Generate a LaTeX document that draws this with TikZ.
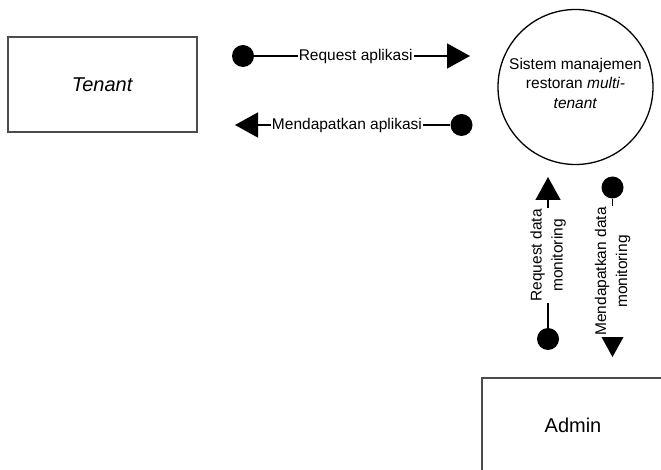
\documentclass[tikz,border=0pt]{standalone}
\usepackage{fontspec}
\setmainfont{Liberation Sans}
\usetikzlibrary{arrows.meta}
\begin{document}
\begin{tikzpicture}[x=1pt,y=-1pt,
  entity/.style={draw=black!70, line width=1.8pt, rectangle, inner sep=0pt,
    font=\fontsize{20}{24}\selectfont},
  process/.style={draw=black, line width=1.3pt, circle, minimum size=155pt, inner sep=0pt},
  processtext/.style={align=center, inner sep=0pt, font=\fontsize{15.5}{19.5}\selectfont},
  dot/.style={circle, fill=black, minimum size=22pt, inner sep=0pt},
  flow/.style={line width=1.5pt, -{Triangle[length=23pt,width=25pt]}},
  flowlabel/.style={fill=white, inner sep=1.2pt, align=center,
    font=\fontsize{15.5}{21}\selectfont}]
\useasboundingbox (0,0) rectangle (661,470);
\clip (0,0) rectangle (661,470);

% external entities and process
\node[entity, minimum width=189pt, minimum height=95pt] (tenant) at (102.5,84.5) {\textit{Tenant}};
\node[entity, minimum width=182pt, minimum height=94pt] (admin) at (573,425) {Admin};
\node[process] (sys) at (575.5,87) {};
\node[processtext] (sysText) at ([yshift=4pt]sys.center) {Sistem manajemen\\restoran \textit{multi-}\\\textit{tenant}};

% data flows between Tenant and the system
\node[dot] (reqSrc) at (243,56) {};
\coordinate (reqTip) at (470,56);
\draw[flow] (reqSrc) -- (reqTip) node[flowlabel, pos=0.47] (reqLbl) {Request aplikasi};

\node[dot] (getSrc) at (461.5,125) {};
\coordinate (getTip) at (235,125);
\draw[flow] (getSrc) -- (getTip) node[flowlabel, pos=0.48] (getLbl) {Mendapatkan aplikasi};

% data flows between Admin and the system
\node[dot] (monSrc) at (548,339) {};
\coordinate (monTip) at (548,177);
\draw[flow] (monSrc) -- (monTip) node[flowlabel, rotate=90, pos=0.48] (monLbl) {Request data\\monitoring};

\node[dot] (resSrc) at (612.5,187.5) {};
\coordinate (resTip) at (612.5,357);
\draw[flow] (resSrc) -- (resTip) node[flowlabel, rotate=90, pos=0.46] (resLbl) {Mendapatkan data\\monitoring};
\end{tikzpicture}
\end{document}
